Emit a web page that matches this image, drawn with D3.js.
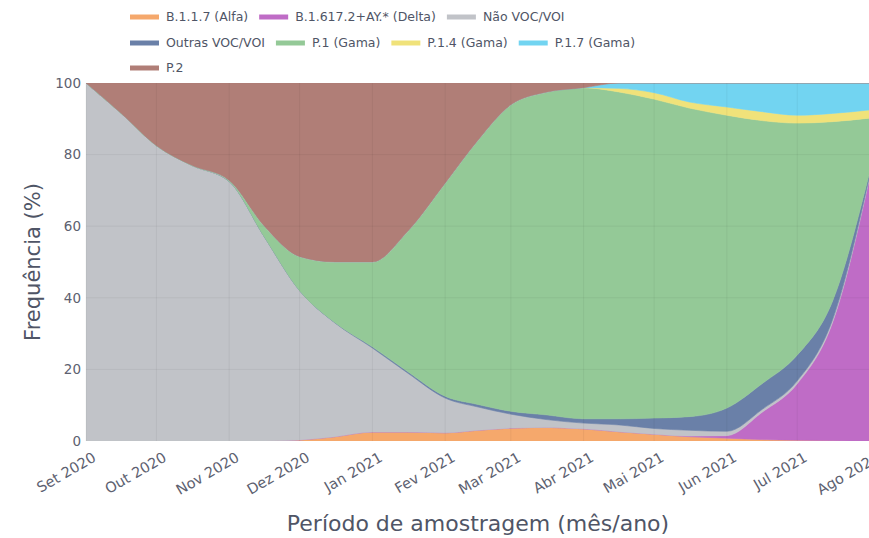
<!DOCTYPE html>
<html><head><meta charset="utf-8">
<script src="https://cdn.jsdelivr.net/npm/d3@7"></script>
<style>
html,body{margin:0;padding:0;background:#fff;}
svg{display:block;font-family:"DejaVu Sans",Verdana,sans-serif;}
</style></head>
<body><svg id="chart" width="869" height="538"></svg>
<script>
// ---- data ----
const dates = ["2020-09-01","2020-09-16","2020-10-01","2020-10-16","2020-11-01","2020-11-16","2020-12-01","2020-12-16","2021-01-01","2021-01-16","2021-02-01","2021-02-15","2021-03-01","2021-03-16","2021-04-01","2021-04-16","2021-05-01","2021-05-16","2021-06-01","2021-06-16","2021-07-01","2021-07-16","2021-08-01"];
const alfa   = [0,0,0,0,0,0,0.3,1.2,2.5,2.5,2.3,3,3.6,3.8,3.4,2.6,1.9,1.2,0.8,0.4,0.2,0.1,0];
const delta  = [0,0,0,0,0,0,0,0,0,0,0,0,0,0,0,0,0,0.2,0.7,7.6,15.8,32.9,74];
const naoVoc = [100,91.5,82.5,77,72.5,57,41.7,31.8,23.5,16.5,9.7,6.5,3.9,2.2,1.6,1.9,1.6,1.6,1.2,0.8,0.8,0.8,0.5];
const outras = [0,0,0,0,0,0,0,0.1,0.3,0.4,0.5,0.7,0.8,1.3,1.2,1.7,2.9,3.8,6.5,7.2,7.2,5.2,1];
const p1     = [0,0,0,0,0.3,3,9.5,16.9,23.7,39.1,59.5,73.8,85.6,90.1,92.5,91.3,89.1,86.2,81.8,73.5,64.8,50.2,14.7];
const p14    = [0,0,0,0,0,0,0,0,0,0,0,0,0,0,0,1,1.8,1.7,2.3,2.5,2.2,2.3,2.3];
const p17    = [0,0,0,0,0,0,0,0,0,0,0,0,0,0,0,1.5,2.7,5.3,6.7,8,9,8.5,7.5];
const p2     = [0,8.5,17.5,23,27.2,40,48.5,50,50,41.5,28,16,6.1,2.6,1.3,0,0,0,0,0,0,0,0];

const seriesNames = ["B.1.1.7 (Alfa)","B.1.617.2+AY.* (Delta)","Não VOC/VOI","Outras VOC/VOI","P.1 (Gama)","P.1.4 (Gama)","P.1.7 (Gama)","P.2"];
const seriesValues = [alfa, delta, naoVoc, outras, p1, p14, p17, p2];
const seriesColors = ["#f5a86c","#bf6cc6","#c1c3c8","#6a80a8","#94c997","#f0e27a","#72d4f1","#b07e77"];

const tickDates = ["2020-09-01","2020-10-01","2020-11-01","2020-12-01","2021-01-01","2021-02-01","2021-03-01","2021-04-01","2021-05-01","2021-06-01","2021-07-01","2021-08-01"];
const tickLabels = ["Set 2020","Out 2020","Nov 2020","Dez 2020","Jan 2021","Fev 2021","Mar 2021","Abr 2021","Mai 2021","Jun 2021","Jul 2021","Ago 2021"];
const yTicks = [0,20,40,60,80,100];

// ---- build ----
const parse = d3.utcParse("%Y-%m-%d");
const rows = dates.map((d,i)=>{
  const r = {date: parse(d)};
  seriesNames.forEach((n,k)=>{ r[n] = seriesValues[k][i]; });
  return r;
});

const svg = d3.select("#chart");
const L = 86, R = 870, T = 83, B = 441;

const x = d3.scaleUtc().domain([parse(dates[0]), parse(dates[dates.length-1])]).range([L, R]);
const y = d3.scaleLinear().domain([0,100]).range([B, T]);

const layers = d3.stack().keys(seriesNames)(rows);

const area = d3.area()
  .x(d=>x(d.data.date))
  .y0(d=>y(d[0]))
  .y1(d=>y(d[1]))
  .curve(d3.curveMonotoneX);

svg.append("defs").append("clipPath").attr("id","clip")
  .append("rect").attr("x",L).attr("y",T).attr("width",R-L).attr("height",B-T);

const g = svg.append("g").attr("clip-path","url(#clip)");
g.selectAll("path.layer").data(layers).join("path")
  .attr("class","layer")
  .attr("d", area)
  .attr("fill",(d,i)=>seriesColors[i])
  .attr("stroke",(d,i)=>seriesColors[i])
  .attr("stroke-width",0.6);

// gridlines
const grid = svg.append("g");
grid.selectAll("line.v").data(tickDates.map(parse)).join("line")
  .attr("x1",d=>x(d)).attr("x2",d=>x(d)).attr("y1",T).attr("y2",B)
  .attr("stroke","#000").attr("stroke-opacity",0.05).attr("stroke-width",1);
grid.selectAll("line.h").data(yTicks.slice(1,-1)).join("line")
  .attr("x1",L).attr("x2",R).attr("y1",d=>y(d)).attr("y2",d=>y(d))
  .attr("stroke","#000").attr("stroke-opacity",0.05).attr("stroke-width",1);

// axes
const tickColor = "#5d6170";
const xAxis = d3.axisBottom(x).tickValues(tickDates.map(parse))
  .tickFormat((d,i)=>tickLabels[i]).tickSize(0).tickPadding(0);
const xg = svg.append("g").attr("transform",`translate(0,${B})`).call(xAxis);
xg.select(".domain").remove();
xg.selectAll("text")
  .attr("fill",tickColor).attr("font-size",14.5)
  .attr("font-family","DejaVu Sans, Verdana, sans-serif")
  .attr("text-anchor","end")
  .attr("dy","0.35em")
  .attr("transform","translate(8,15) rotate(-30)");

const yAxis = d3.axisLeft(y).tickValues(yTicks).tickSize(0).tickPadding(5);
const yg = svg.append("g").attr("transform",`translate(${L},0)`).call(yAxis);
yg.select(".domain").remove();
yg.selectAll("text").attr("fill",tickColor).attr("font-size",13.5)
  .attr("font-family","DejaVu Sans, Verdana, sans-serif");

// axis titles
svg.append("text").attr("x",478).attr("y",531)
  .attr("text-anchor","middle").attr("fill","#4f5566").attr("font-size",22)
  .text("Período de amostragem (mês/ano)");
svg.append("text").attr("transform",`translate(40,${(T+B)/2}) rotate(-90)`)
  .attr("text-anchor","middle").attr("fill","#4f5566").attr("font-size",21)
  .text("Frequência (%)");

// legend
const leg = svg.append("g");
const rowYs = [17, 43, 68];
let cx = 130, row = 0;
const maxX = 660;
seriesNames.forEach((n,i)=>{
  const item = leg.append("g");
  const t = item.append("text").attr("x",36).attr("dy","0.35em")
    .attr("font-size",12.5).attr("fill","#4f5566").text(n);
  const w = 36 + t.node().getComputedTextLength();
  if (cx + w > maxX && cx > 130) { row++; cx = 130; }
  item.attr("transform",`translate(${cx},${rowYs[row]})`);
  item.insert("line","text").attr("x1",0).attr("x2",29).attr("y1",0).attr("y2",0)
    .attr("stroke",seriesColors[i]).attr("stroke-width",5);
  cx += w + 11;
});
</script>
</body></html>
